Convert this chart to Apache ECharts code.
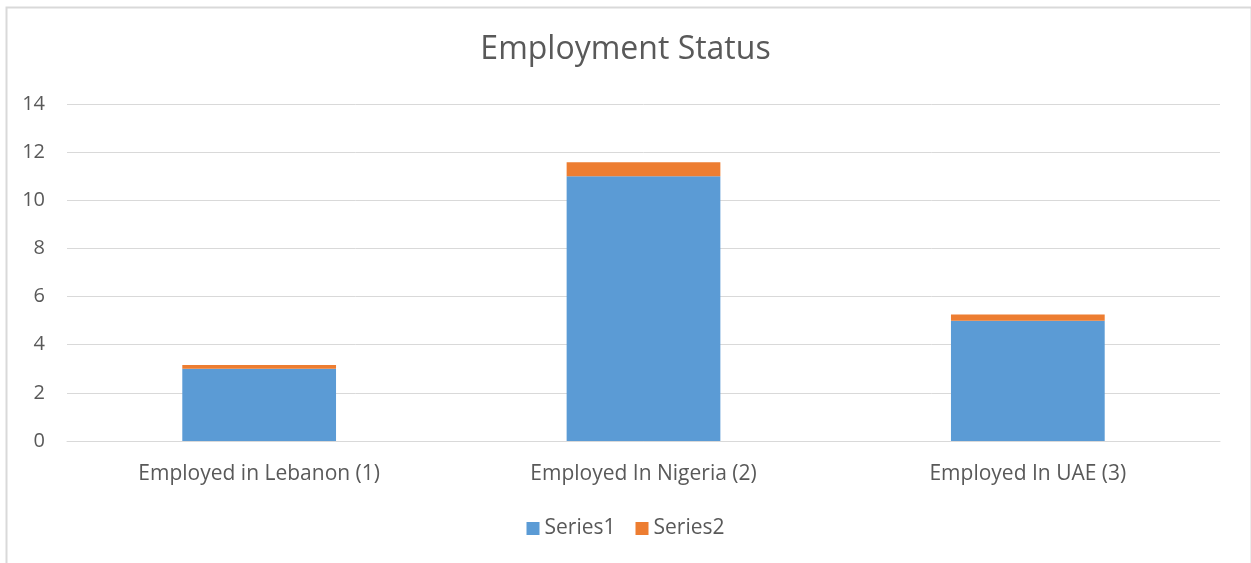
<!DOCTYPE html>
<html>
<head>
<meta charset="utf-8">
<script src="https://cdn.jsdelivr.net/npm/echarts@6/dist/echarts.min.js"></script>
<style>
html,body{margin:0;padding:0;background:#fff;}
#c{width:1251px;height:563px;}
</style>
</head>
<body>
<div id="c"></div>
<script>
const categories = ['Employed in Lebanon (1)', 'Employed In Nigeria (2)', 'Employed In UAE (3)'];
const series1 = [3, 11, 5];
const series2 = [0.16, 0.58, 0.26];
const yTicks = { min: 0, max: 14, interval: 2 };

const FONT = 'Open Sans';
const chart = echarts.init(document.getElementById('c'));
chart.setOption({
  backgroundColor: '#fff',
  animation: false,
  textStyle: { fontFamily: FONT },
  graphic: [{
    type: 'rect', left: 4, top: 5,
    shape: { width: 1245, height: 600 },
    style: { fill: 'none', stroke: '#d9d9d9', lineWidth: 2 },
    silent: true
  }],
  title: {
    text: 'Employment Status', left: 'center', top: 29,
    textStyle: { fontFamily: FONT, fontSize: 32, fontWeight: 'normal', color: '#595959' }
  },
  legend: {
    bottom: 19, left: 'center', itemWidth: 13, itemHeight: 13, itemGap: 20,
    icon: 'rect',
    textStyle: { fontFamily: FONT, fontSize: 21, color: '#595959', padding: [0, 0, 0, 0] },
    data: ['Series1', 'Series2']
  },
  grid: { left: 67, right: 31, top: 104, bottom: 122, containLabel: false },
  xAxis: {
    type: 'category', data: categories,
    axisLine: { lineStyle: { color: '#d9d9d9', width: 1 } },
    axisTick: { show: false },
    axisLabel: { fontFamily: FONT, fontSize: 21, color: '#595959', margin: 23 }
  },
  yAxis: {
    type: 'value', min: yTicks.min, max: yTicks.max, interval: yTicks.interval,
    axisLine: { show: false }, axisTick: { show: false },
    splitLine: { lineStyle: { color: '#d9d9d9', width: 1 } },
    axisLabel: { fontFamily: FONT, fontSize: 20, color: '#595959', margin: 22 }
  },
  series: [
    { name: 'Series1', type: 'bar', stack: 's', data: series1, barWidth: '40%', itemStyle: { color: '#5b9bd5' } },
    { name: 'Series2', type: 'bar', stack: 's', data: series2, barWidth: '40%', itemStyle: { color: '#ed7d31' } }
  ]
});
</script>
</body>
</html>
